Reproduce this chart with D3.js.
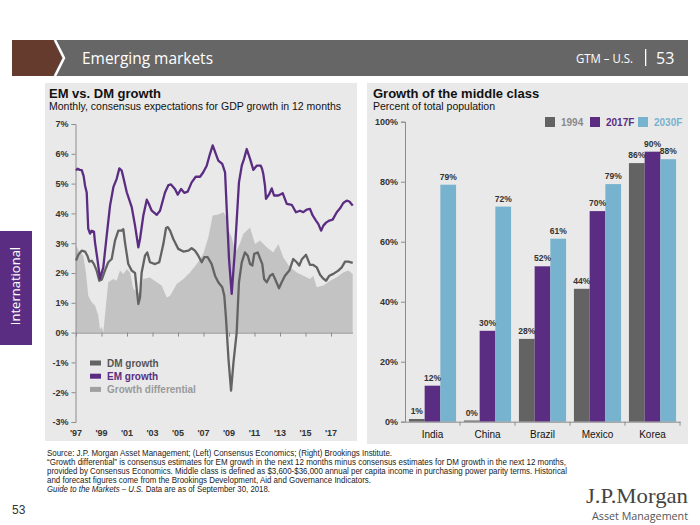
<!DOCTYPE html>
<html><head><meta charset="utf-8">
<script src="https://cdn.jsdelivr.net/npm/d3@7"></script>
<style>body{margin:0;background:#fff;}svg{display:block;font-family:"Liberation Sans",Arial,sans-serif;}</style>
</head><body>
<svg id="c" width="700" height="525"></svg>
<script>
// ---------- Left chart data ----------
const emYears = [1997.00,1997.12,1997.30,1997.45,1997.60,1997.71,1997.84,1997.96,1998.10,1998.23,1998.41,1998.49,1998.70,1998.88,1999.14,1999.41,1999.67,1999.93,2000.19,2000.40,2000.58,2000.71,2000.98,2001.37,2001.63,2001.89,2002.02,2002.28,2002.55,2002.70,2002.94,2003.33,2003.59,2003.98,2004.25,2004.45,2004.76,2004.98,2005.24,2005.49,2005.76,2006.07,2006.39,2006.73,2006.98,2007.25,2007.51,2007.72,2007.90,2008.16,2008.47,2008.69,2008.82,2009.00,2009.21,2009.47,2009.78,2010.00,2010.18,2010.39,2010.65,2010.91,2011.17,2011.49,2011.59,2011.69,2011.82,2011.90,2012.16,2012.35,2012.53,2012.87,2013.21,2013.53,2013.92,2014.25,2014.57,2014.83,2015.09,2015.35,2015.56,2015.82,2016.00,2016.22,2016.40,2016.61,2016.87,2017.13,2017.45,2017.71,2017.96,2018.23,2018.44,2018.70];
const emValues = [5.44,5.50,5.46,5.45,5.25,4.93,4.70,3.49,3.32,3.42,3.38,3.03,2.40,1.81,2.19,3.26,4.26,4.88,5.16,5.51,5.44,5.21,4.71,4.21,3.59,2.86,3.14,3.93,4.46,4.33,4.09,3.95,4.09,4.70,4.95,4.97,4.82,4.63,4.82,4.69,4.73,5.04,5.23,5.23,5.38,5.60,6.00,6.28,6.07,5.77,5.66,5.38,4.15,2.47,1.30,2.81,5.04,5.60,5.83,6.16,5.83,5.46,5.60,5.60,5.50,5.32,4.93,4.49,4.65,4.84,4.60,4.60,4.68,4.32,4.29,4.04,4.09,4.04,4.13,4.15,3.93,3.76,3.65,3.42,3.59,3.69,3.76,3.79,4.04,4.17,4.35,4.43,4.40,4.26];

const dmYears = [1997.00,1997.18,1997.45,1997.71,1997.89,1998.04,1998.23,1998.41,1998.62,1998.83,1999.02,1999.27,1999.53,1999.80,2000.06,2000.32,2000.58,2000.71,2000.84,2001.10,2001.37,2001.63,2001.76,2001.89,2002.02,2002.15,2002.41,2002.59,2002.80,2003.20,2003.53,2003.85,2004.06,2004.20,2004.38,2004.63,2005.02,2005.42,2005.81,2006.07,2006.33,2006.59,2006.86,2007.06,2007.33,2007.64,2007.90,2008.16,2008.47,2008.63,2008.76,2008.96,2009.16,2009.35,2009.60,2009.78,2010.00,2010.25,2010.47,2010.65,2010.83,2010.98,2011.25,2011.43,2011.61,2011.75,2011.96,2012.22,2012.43,2012.61,2012.92,2013.13,2013.39,2013.73,2014.04,2014.31,2014.51,2014.70,2015.04,2015.35,2015.61,2015.88,2016.14,2016.35,2016.61,2016.87,2017.18,2017.57,2017.84,2018.10,2018.36,2018.70];
const dmValues = [2.42,2.61,2.75,2.72,2.58,2.38,2.41,2.30,2.08,1.74,1.78,2.08,2.36,2.47,3.09,3.42,3.42,3.47,3.03,2.30,2.08,2.00,1.47,0.96,1.18,2.02,2.58,2.69,2.36,2.30,2.36,2.97,3.51,3.54,3.42,3.14,2.81,2.72,2.75,2.83,2.75,2.58,2.36,2.53,2.53,2.30,1.91,1.69,1.52,1.24,0.50,-0.90,-1.95,-1.00,0.00,1.69,2.36,2.69,2.58,2.30,2.25,2.64,2.69,2.49,2.30,1.80,1.69,1.91,1.97,1.80,1.49,1.69,1.91,2.08,2.47,2.36,2.25,2.45,2.61,2.27,2.27,2.19,1.94,1.83,1.74,1.91,1.97,2.08,2.19,2.38,2.38,2.34];

const diffYears = [1997.00,1997.31,1997.57,1997.78,1997.96,1998.23,1998.49,1998.75,1998.88,1999.02,1999.14,1999.27,1999.53,1999.93,2000.19,2000.45,2000.71,2000.98,2001.24,2001.49,2001.76,2002.02,2002.28,2002.80,2003.33,2003.72,2004.11,2004.38,2004.90,2005.42,2005.94,2006.47,2006.98,2007.38,2007.72,2008.16,2008.55,2008.82,2009.00,2009.21,2009.39,2009.60,2009.86,2010.12,2010.65,2011.04,2011.43,2011.96,2012.47,2012.87,2013.26,2013.78,2014.31,2014.83,2015.35,2015.61,2015.88,2016.40,2016.94,2017.45,2017.96,2018.36,2018.70];
const diffValues = [2.92,2.69,2.58,2.02,1.24,1.02,0.91,0.57,0.10,0.20,0.00,0.57,1.69,1.80,1.74,2.08,1.97,2.13,2.02,1.47,1.36,1.30,1.80,1.85,1.69,1.58,1.18,1.24,1.63,1.80,2.02,2.30,2.64,3.20,3.93,3.96,4.04,3.87,3.40,3.20,2.90,2.75,3.00,3.31,3.53,2.97,3.09,2.86,2.69,2.97,2.52,2.19,2.02,1.91,1.80,1.91,1.52,1.58,1.74,1.86,2.02,2.08,1.97];

const leftYTicks = [-3,-2,-1,0,1,2,3,4,5,6,7];
const leftXTicks = [1997,1999,2001,2003,2005,2007,2009,2011,2013,2015,2017];
const leftLegend = ["DM growth","EM growth","Growth differential"];

// ---------- Right chart data ----------
const countries = ["India","China","Brazil","Mexico","Korea"];
const seriesNames = ["1994","2017F","2030F"];
const v1994 = [0.9,0.4,27.6,44.3,86.2];
const v2017 = [12,30.3,51.8,70.2,90];
const v2030 = [79,71.7,61,79.2,87.5];
const rightYTicks = [0,20,40,60,80,100];

// ---------- drawing ----------
const svg = d3.select("#c");
const PURPLE = "#5a2d82", DMGRAY = "#636363", DIFF = "#c3c3c3", BLUE = "#77b2ce", PANEL = "#e9e9e9";

// Header
svg.append("rect").attr("x",12).attr("y",40).attr("width",676).attr("height",36).attr("fill","#666666");
svg.append("path").attr("d","M12,40 L53,40 L62,58 L53,76 L12,76 Z").attr("fill","#643b2d");
svg.append("path").attr("d","M55,40 L64,58 L55,76").attr("fill","none").attr("stroke","#fff").attr("stroke-width",2.5);
svg.append("text").attr("x",82).attr("y",63.5).attr("fill","#fff").attr("font-size",17)
  .attr("font-family","'Open Sans',sans-serif").attr("textLength",131).attr("lengthAdjust","spacingAndGlyphs").text("Emerging markets");
svg.append("text").attr("x",576).attr("y",63).attr("fill","#fff").attr("font-size",13)
  .attr("font-family","'Open Sans',sans-serif").attr("textLength",57).attr("lengthAdjust","spacingAndGlyphs").text("GTM – U.S.");
svg.append("rect").attr("x",645).attr("y",49).attr("width",1.3).attr("height",17).attr("fill","#fff");
svg.append("text").attr("x",656).attr("y",64).attr("fill","#fff").attr("font-size",16)
  .attr("font-family","'Open Sans',sans-serif").text("53");

// Side tab
svg.append("rect").attr("x",0).attr("y",231).attr("width",32).attr("height",114).attr("fill",PURPLE);
svg.append("text").attr("transform","translate(20,286) rotate(-90)").attr("text-anchor","middle")
  .attr("fill","#fff").attr("font-size",13).attr("font-family","'Open Sans',sans-serif").text("International");

// Panels
svg.append("rect").attr("x",45).attr("y",83).attr("width",312).attr("height",358).attr("fill",PANEL);
svg.append("rect").attr("x",367).attr("y",83).attr("width",321).attr("height",361).attr("fill",PANEL);

// ---- Left chart ----
const gL = svg.append("g");
gL.append("text").attr("x",49).attr("y",98).attr("font-size",13).attr("font-weight","bold").attr("fill","#111").text("EM vs. DM growth");
gL.append("text").attr("x",49).attr("y",110).attr("font-size",10.5).attr("fill","#111").text("Monthly, consensus expectations for GDP growth in 12 months");

const xL = d3.scaleLinear().domain([1997,2018.7]).range([76,352.7]);
const yL = d3.scaleLinear().domain([-3,7]).range([422,124]);

const diffData = diffYears.map((y,i)=>({x:y,v:diffValues[i]}));
gL.append("path").datum(diffData).attr("fill",DIFF)
  .attr("d",d3.area().x(d=>xL(d.x)).y0(yL(0)).y1(d=>yL(d.v)));

// Y axis
const yAxL = gL.append("g").attr("transform","translate(75.5,0)")
  .call(d3.axisLeft(yL).tickValues(leftYTicks).tickSize(4).tickFormat(d=>d+"%"));
// X axis at zero
const xAxL = gL.append("g").attr("transform",`translate(0,${yL(0)})`)
  .call(d3.axisBottom(xL).tickValues(leftXTicks).tickSize(4).tickFormat(""));
xAxL.select(".domain").attr("d",`M75.5,0.5H353`);
// x labels at bottom
gL.append("g").selectAll("text").data(leftXTicks).join("text")
  .attr("x",d=>xL(d)).attr("y",436).attr("text-anchor","middle").attr("font-size",9).attr("font-weight","bold").attr("fill","#333")
  .text(d=>"'"+String(d).slice(2));

[yAxL,xAxL].forEach(a=>{
  a.selectAll(".domain").attr("stroke","#8c8c8c");
  a.selectAll(".tick line").attr("stroke","#8c8c8c");
  a.selectAll(".tick text").attr("font-size",9).attr("font-weight","bold").attr("fill","#333").attr("font-family","'Liberation Sans',Arial,sans-serif");
});
yAxL.selectAll(".tick text").attr("x",-7);

const line = d3.line().x(d=>xL(d.x)).y(d=>yL(d.v));
gL.append("path").datum(dmYears.map((y,i)=>({x:y,v:dmValues[i]})))
  .attr("fill","none").attr("stroke",DMGRAY).attr("stroke-width",2.3).attr("stroke-linejoin","round").attr("d",line);
gL.append("path").datum(emYears.map((y,i)=>({x:y,v:emValues[i]})))
  .attr("fill","none").attr("stroke",PURPLE).attr("stroke-width",2.3).attr("stroke-linejoin","round").attr("d",line);

// Legend left
const legCols = [DMGRAY, PURPLE, "#a0a0a0"];
const legTextCols = ["#555", PURPLE, "#9a9a9a"];
const lg = gL.append("g").selectAll("g").data(leftLegend).join("g")
  .attr("transform",(d,i)=>`translate(90,${363+i*13.2})`);
lg.append("rect").attr("x",0).attr("y",-2.5).attr("width",11).attr("height",5).attr("fill",(d,i)=>legCols[i]);
lg.append("text").attr("x",17).attr("y",4).attr("font-size",10).attr("font-weight","bold").attr("fill",(d,i)=>legTextCols[i]).text(d=>d);

// ---- Right chart ----
const gR = svg.append("g");
gR.append("text").attr("x",373).attr("y",98).attr("font-size",13).attr("font-weight","bold").attr("fill","#111").text("Growth of the middle class");
gR.append("text").attr("x",373).attr("y",110).attr("font-size",10.5).attr("fill","#111").text("Percent of total population");

const xR = d3.scaleBand().domain(countries).range([405,680]);
const xS = d3.scaleBand().domain(seriesNames).range([0,xR.bandwidth()]).paddingOuter(0.25);
const yR = d3.scaleLinear().domain([0,100]).range([421.7,121.7]);
const seriesVals = [v1994,v2017,v2030];
const seriesCols = [DMGRAY, PURPLE, BLUE];

const yAxR = gR.append("g").attr("transform","translate(405,0)")
  .call(d3.axisLeft(yR).tickValues(rightYTicks).tickSize(4).tickFormat(d=>d+"%"));
yAxR.selectAll(".tick text").attr("x",-7);

const barData = [];
countries.forEach((c,ci)=>seriesNames.forEach((s,si)=>barData.push({c,s,si,v:seriesVals[si][ci]})));
gR.append("g").selectAll("rect").data(barData).join("rect")
  .attr("x",d=>xR(d.c)+xS(d.s)).attr("width",xS.bandwidth())
  .attr("y",d=>yR(d.v)).attr("height",d=>yR(0)-yR(d.v)).attr("fill",d=>seriesCols[d.si]);
gR.append("g").selectAll("text").data(barData).join("text")
  .attr("x",d=>xR(d.c)+xS(d.s)+xS.bandwidth()/2).attr("y",d=>yR(d.v)-5)
  .attr("text-anchor","middle").attr("font-size",8.5).attr("font-weight","bold").attr("fill","#333")
  .text(d=>Math.round(d.v)+"%");

const xAxR = gR.append("g").attr("transform",`translate(0,${yR(0)})`)
  .call(d3.axisBottom(xR).tickSize(0).tickPadding(9));
gR.append("g").selectAll("line").data(countries).join("line")
  .attr("x1",d=>xR(d)+xR.bandwidth()).attr("x2",d=>xR(d)+xR.bandwidth())
  .attr("y1",yR(0)).attr("y2",yR(0)+4).attr("stroke","#8c8c8c");

[yAxR,xAxR].forEach(a=>{
  a.selectAll(".domain").attr("stroke","#8c8c8c");
  a.selectAll(".tick line").attr("stroke","#8c8c8c");
  a.selectAll(".tick text").attr("font-size",9).attr("font-weight","bold").attr("fill","#333").attr("font-family","'Liberation Sans',Arial,sans-serif");
});
xAxR.selectAll(".tick text").attr("font-size",10).attr("font-weight","normal").attr("fill","#111");

// Legend right
const legX = [545,590,638];
const rl = gR.append("g").selectAll("g").data(seriesNames).join("g")
  .attr("transform",(d,i)=>`translate(${legX[i]},122)`);
rl.append("rect").attr("x",0).attr("y",-5).attr("width",10).attr("height",10).attr("fill",(d,i)=>seriesCols[i]);
rl.append("text").attr("x",16).attr("y",4).attr("font-size",10).attr("font-weight","bold")
  .attr("fill",(d,i)=>["#8a8a8a",PURPLE,BLUE][i]).text(d=>d);

// ---- Footer ----
const foot = [
  {t:"Source: J.P. Morgan Asset Management; (Left) Consensus Economics; (Right) Brookings Institute.", w:345},
  {t:"“Growth differential” is consensus estimates for EM growth in the next 12 months minus consensus estimates for DM growth in the next 12 months,", w:519},
  {t:"provided by Consensus Economics. Middle class is defined as $3,600-$36,000 annual per capita income in purchasing power parity terms. Historical", w:520},
  {t:"and forecast figures come from the Brookings Development, Aid and Governance Indicators.", w:324}
];
foot.forEach((f,i)=>{
  svg.append("text").attr("x",47).attr("y",456+i*9).attr("font-size",8.6).attr("fill","#222")
    .attr("textLength",f.w).attr("lengthAdjust","spacingAndGlyphs").text(f.t);
});
const last = svg.append("text").attr("x",47).attr("y",492).attr("font-size",8.6).attr("fill","#222")
  .attr("textLength",223).attr("lengthAdjust","spacingAndGlyphs");
last.append("tspan").attr("font-style","italic").text("Guide to the Markets – U.S.");
last.append("tspan").text(" Data are as of September 30, 2018.");

svg.append("text").attr("x",12).attr("y",514).attr("font-size",12).attr("fill","#333").text("53");

svg.append("text").attr("x",586).attr("y",503).attr("font-size",22).attr("font-family","'Liberation Serif','DejaVu Serif',serif")
  .attr("fill","#444").attr("textLength",102).attr("lengthAdjust","spacingAndGlyphs").text("J.P.Morgan");
svg.append("text").attr("x",592).attr("y",520).attr("font-size",11).attr("font-family","'Open Sans',sans-serif")
  .attr("fill","#555").attr("textLength",96).attr("lengthAdjust","spacingAndGlyphs").text("Asset Management");
</script>
</body></html>
